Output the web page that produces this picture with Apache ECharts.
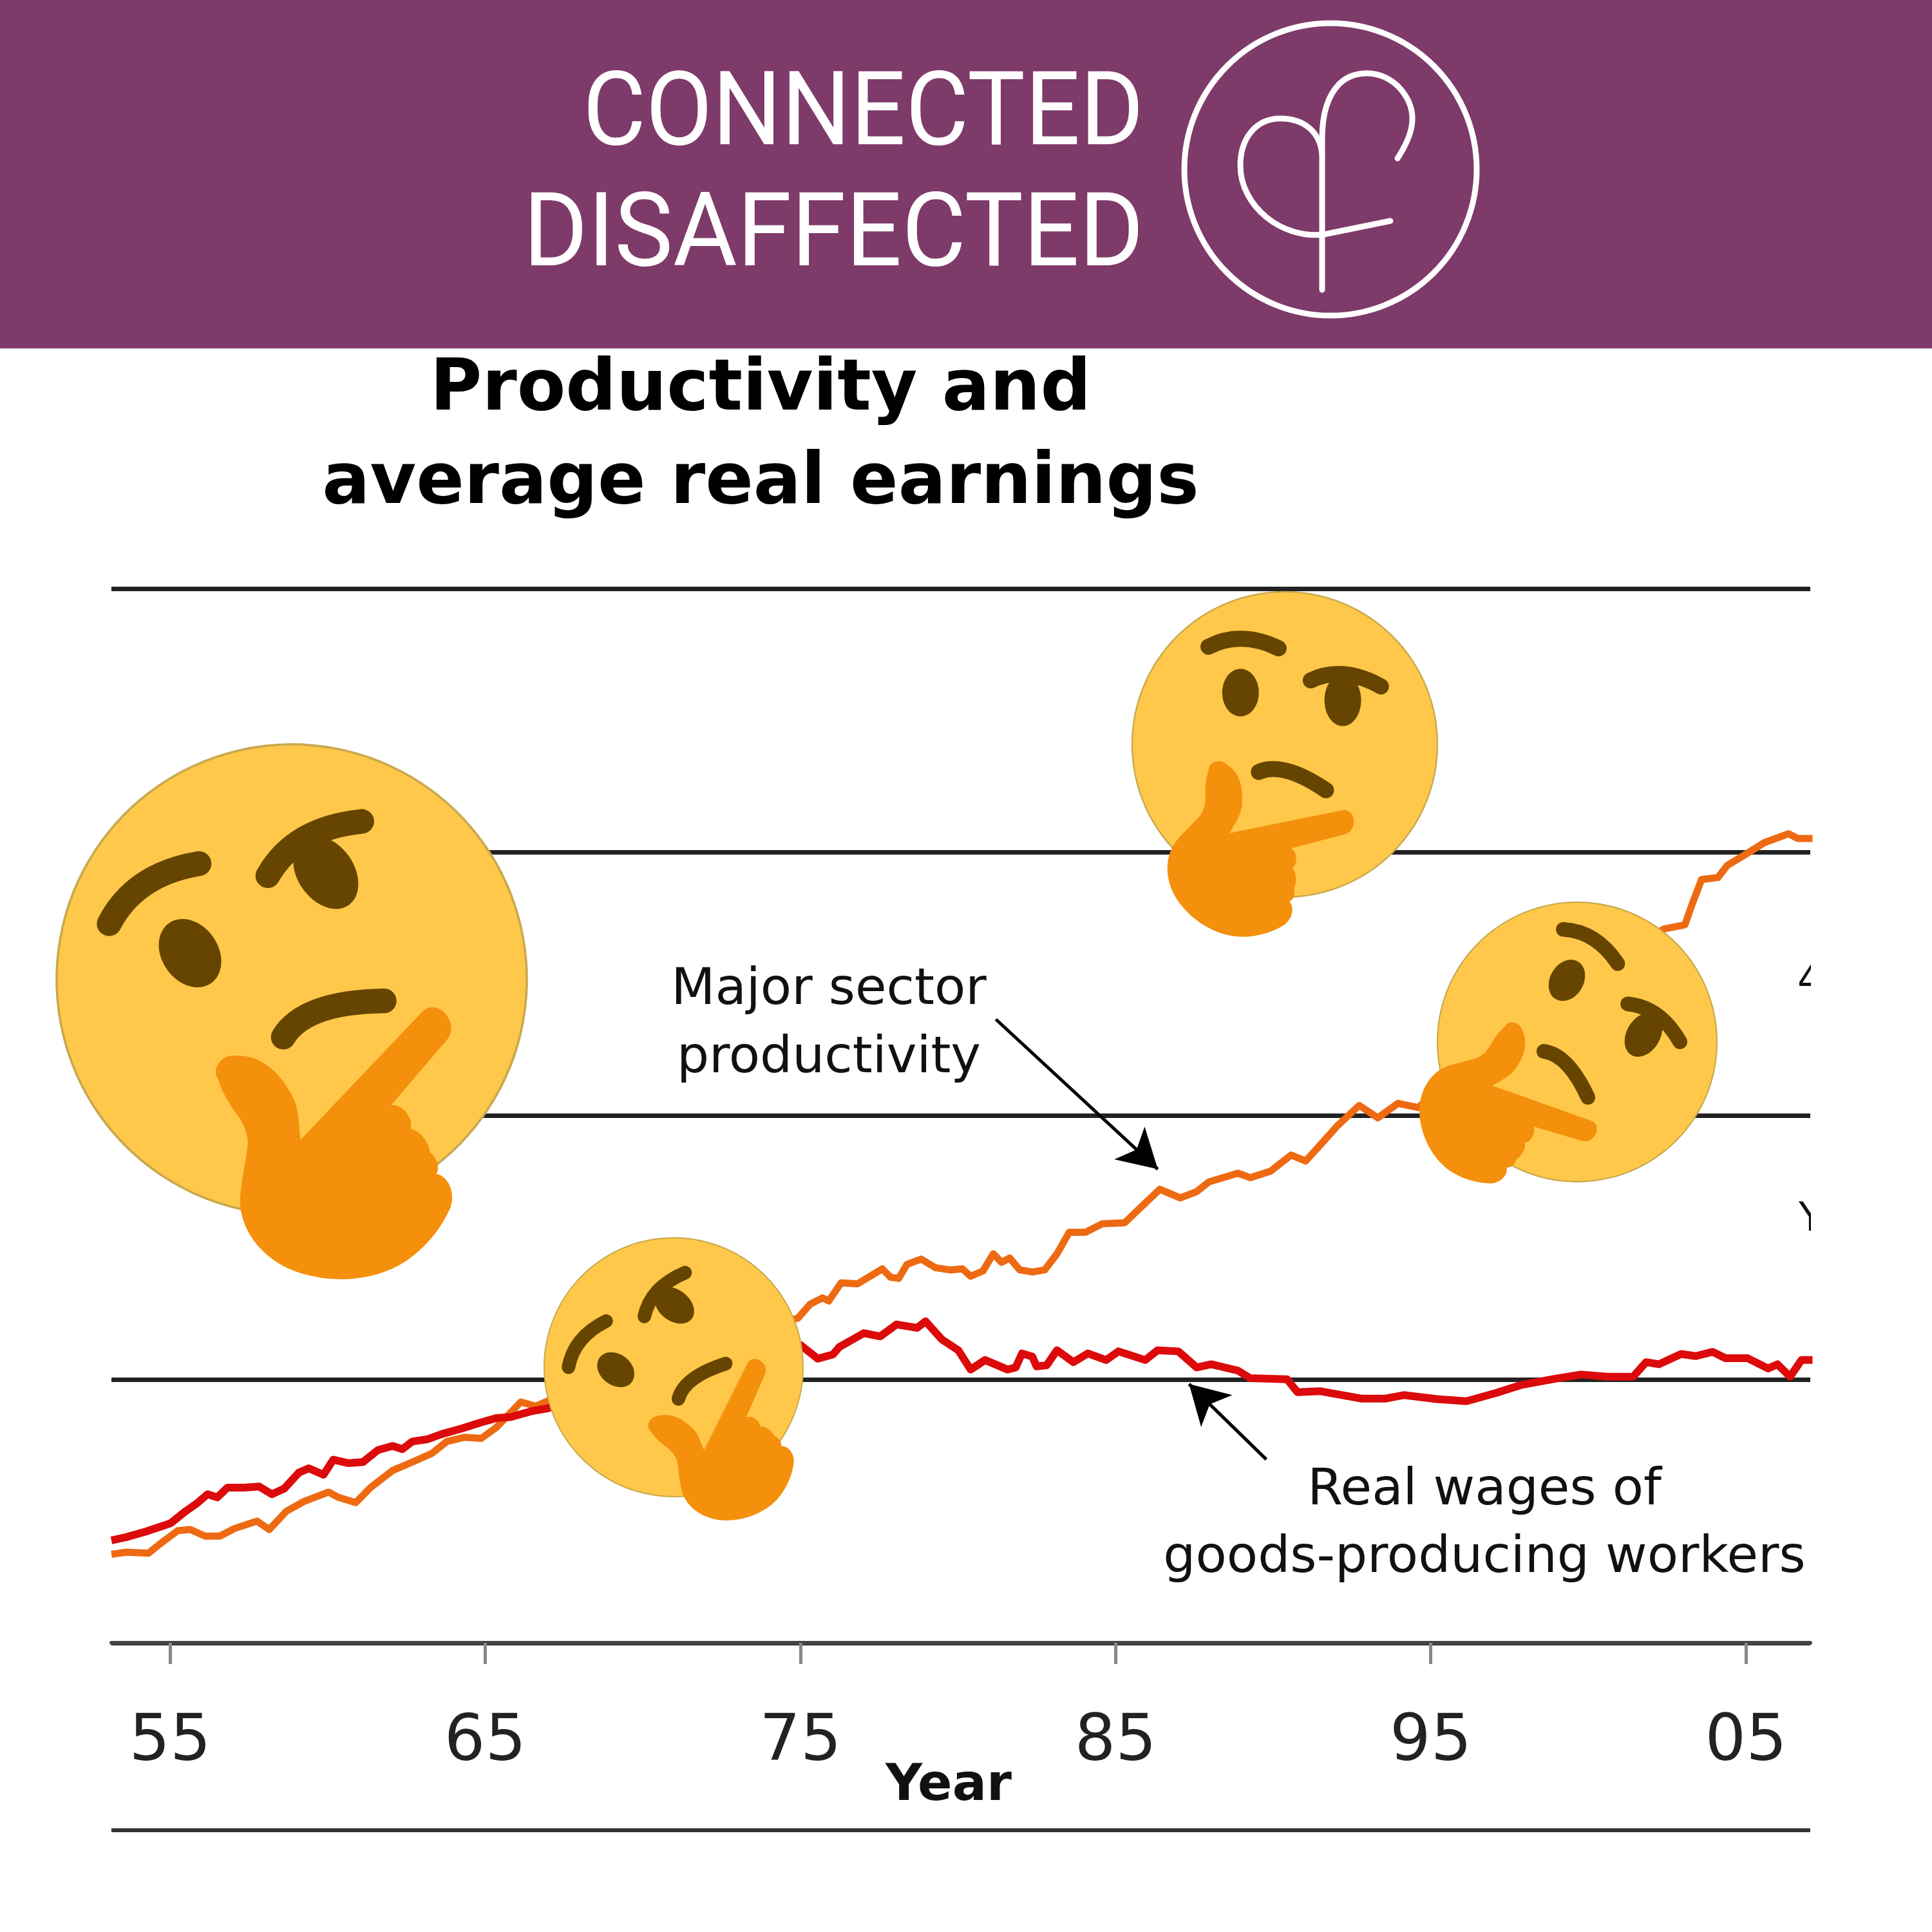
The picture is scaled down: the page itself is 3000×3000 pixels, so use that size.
<!DOCTYPE html>
<html><head><meta charset="utf-8">
<style>html,body{margin:0;padding:0;background:#fff}#c{width:3000px;height:3000px}</style>
<script src="https://cdn.jsdelivr.net/npm/echarts@6/dist/echarts.min.js"></script>
</head><body><div id="c"></div>
<script>
const tickYears = [1955,1965,1975,1985,1995,2005];

const productivityYears = [1953.14,1953.61,1954.31,1954.7,1955.25,1955.64,1956.11,1956.58,1957.05,1957.76,1958.15,1958.69,1959.24,1960.03,1960.34,1960.89,1961.36,1962.06,1962.69,1963.31,1963.78,1964.33,1964.88,1965.35,1966.13,1966.6,1968,1970,1972,1973.5,1974.92,1975.31,1975.7,1975.9,1976.29,1976.81,1977.6,1977.86,1978.12,1978.38,1978.83,1979.29,1979.75,1980.14,1980.4,1980.79,1981.12,1981.38,1981.64,1981.96,1982.36,1982.75,1983.14,1983.53,1984.05,1984.57,1985.29,1985.68,1986.4,1987.05,1987.57,1987.96,1988.88,1989.27,1989.92,1990.57,1991.03,1991.56,1992.03,1992.73,1993.32,1993.96,1994.61,1996,1998,2000,2001,2002.41,2003.06,2003.29,2003.59,2004.11,2004.41,2005.06,2005.58,2006.35,2006.64,2007.11];
const productivityValues = [33.6,34.4,34.0,37.7,42.6,43.0,40.5,40.5,43.4,46.2,43.0,49.9,53.6,57.2,55.2,53.2,58.9,65.4,68.6,71.9,76.4,78.0,77.6,81.7,91.4,89.8,97,103,113,119,123.2,128.5,130.9,129.7,136.6,136.2,141.9,138.7,138.3,143.6,145.6,142.3,141.5,141.9,139.1,141.1,147.6,144.4,146.0,141.5,140.7,141.5,147.6,155.8,155.8,159.0,159.4,163.9,172.1,168.8,171.2,174.9,178.2,176.5,179.0,185.1,182.8,189.8,196.1,203.9,199.2,204.7,203.1,220,240,255,262,270.9,272.4,280.2,289.6,290.4,295.0,299.7,303.6,307.0,305.2,305.2];

const wageYears = [1953.14,1953.61,1954.23,1955.02,1955.49,1955.88,1956.19,1956.5,1956.82,1957.36,1957.83,1958.23,1958.62,1959.09,1959.4,1959.87,1960.18,1960.65,1961.12,1961.59,1962.06,1962.37,1962.69,1963.15,1963.62,1964.25,1964.88,1965.35,1965.82,1966.44,1966.99,1968,1970,1972,1973,1974,1975.0,1975.55,1976.03,1976.23,1977.01,1977.53,1978.05,1978.7,1978.97,1979.49,1980.01,1980.4,1980.86,1981.57,1981.83,1982.03,1982.36,1982.49,1982.81,1983.14,1983.66,1984.12,1984.7,1985.09,1985.94,1986.33,1986.99,1987.57,1988.03,1988.88,1989.27,1990.44,1990.77,1991.48,1992.79,1993.57,1994.14,1995.19,1996.13,1997.07,1997.89,1998.95,1999.77,2000.59,2001.42,2001.83,2002.24,2002.94,2003.41,2003.94,2004.35,2005.05,2005.7,2006.0,2006.4,2006.76,2007.11];
const wageValues = [38.9,40.1,42.2,45.4,49.9,53.2,56.4,55.2,58.9,58.9,59.3,56.4,58.5,64.6,66.2,63.8,69.5,68.2,68.6,73.1,74.7,73.5,76.4,77.2,79.2,81.3,83.7,85.3,85.7,87.8,89.0,93,100,106,112,112,113,107.8,109.4,112.2,117.5,116.3,120.8,119.5,122.0,115.1,111.0,103.7,107.3,103.7,104.5,109.8,108.6,104.9,105.3,111.0,106.5,109.8,107.3,110.6,107.3,111.0,110.6,104.5,105.7,103.3,100.4,100.0,95.1,95.5,92.7,92.7,94.0,92.5,91.7,94.8,97.9,100.2,101.8,101.0,101.0,106.5,105.7,109.6,108.8,110.4,108.0,108.0,104.1,105.7,101.0,107.3,107.3];

const pairs = (xs, ys) => xs.map((x, i) => [x, ys[i]]);
const FACE='#FFC84A', EDGE='#C9A94E', DARK='#664500', HAND='#F4900C';
const emojiLayout = [[453,1521,365,35],[1995,1156,237,0],[1046,2123,201,52],[2449,1618,217,-31]];

function renderThinker(params, api){
  const stroke=(d,w)=>({type:'path',shape:{pathData:d},style:{fill:'none',stroke:DARK,lineWidth:w,lineCap:'round',lineJoin:'round'}});
  const r=api.value(2)/100;
  return {type:'group',x:api.value(0),y:api.value(1),scaleX:r,scaleY:r,rotation:api.value(3)*Math.PI/180,children:[
    {type:'circle',shape:{cx:0,cy:0,r:100},style:{fill:FACE,stroke:EDGE,lineWidth:1}},
    stroke('M-50,-64 Q-29,-75 -4,-63',10.5),
    {type:'ellipse',shape:{cx:-29,cy:-34,rx:12,ry:15.6},style:{fill:DARK}},
    stroke('M17,-42 Q38,-52 63,-38',10.5),
    {type:'ellipse',shape:{cx:38,cy:-29,rx:12,ry:17},style:{fill:DARK}},
    stroke('M-17,18 Q-1,11 27,30',10.5),
    {type:'path',shape:{pathData:'M-50,17 C-50,11 -42,9 -38,13 C-30,18 -27,28 -28,38 C-28,46 -33,52 -36,58 L38,43 C47,42 48,57 39,59 L4,68 C9,71 8,79 5,81 C8,84 8,91 6,94 C7,97 6,102 3,103 C6,106 6,113 0,118 C-8,123 -18,126 -28,126 C-45,126 -62,115 -71,101 C-79,88 -79,72 -70,62 C-64,55 -58,50 -55,46 C-52,41 -52,37 -52,33 C-52,28 -52,23 -50,17 Z'},style:{fill:HAND}}
  ]};
}
function renderLogo(){
  const s={fill:'none',stroke:'#fff',lineWidth:9,lineCap:'round'};
  return {type:'group',children:[
    {type:'path',shape:{pathData:'M2170,246 C2190,215 2205,180 2180,145 C2155,108 2105,105 2080,130 C2060,150 2053,180 2053,215 L2053,450'},style:s},
    {type:'path',shape:{pathData:'M2159,343 L2056,364 C1990,372 1926,320 1926,257 C1926,215 1950,184 1988,184 C2025,184 2050,205 2053,240'},style:s}
  ]};
}

const option = {
  animation:false,
  backgroundColor:'#fff',
  title:{text:'Productivity and\naverage real earnings',left:1176,top:530,textAlign:'center',
    textStyle:{fontFamily:'DejaVu Sans',fontWeight:'bold',fontSize:110,lineHeight:145,color:'#000'}},
  grid:{left:173,right:189,top:914,bottom:449,containLabel:false},
  xAxis:{type:'value',min:1953.14,max:2007.04,
    name:'Year',nameLocation:'middle',nameGap:184,nameMoveOverlap:false,
    nameTextStyle:{fontFamily:'DejaVu Sans',fontWeight:'bold',fontSize:79,color:'#111',padding:[0,38,0,0]},
    axisLine:{onZero:false,lineStyle:{color:'#444',width:6}},
    axisTick:{customValues:tickYears,length:33,lineStyle:{color:'#888',width:5}},
    axisLabel:{customValues:tickYears,margin:106,fontFamily:'DejaVu Sans',fontSize:100,color:'#222',
      formatter:v=>String(Math.round(v)%100).padStart(2,'0')},
    splitLine:{show:false}},
  yAxis:{type:'value',min:0,max:400,interval:100,
    axisLine:{show:false},axisTick:{show:false},axisLabel:{show:false},
    splitLine:{show:true,lineStyle:{color:'#222',width:7}}},
  series:[
    {name:'Major sector productivity',type:'line',showSymbol:false,symbol:'none',data:pairs(productivityYears,productivityValues),
      lineStyle:{color:'#EE6A12',width:11,join:'round'},z:5,
      markLine:{silent:true,animation:false,symbol:['none','arrow'],symbolSize:[52,60],label:{show:false},
        lineStyle:{color:'#000',width:5,type:'solid'},
        data:[[{coord:[1981.2,236.6]},{coord:[1986.34,179.7]}]]}},
    {name:'Real wages of goods-producing workers',type:'line',showSymbol:false,symbol:'none',data:pairs(wageYears,wageValues),
      lineStyle:{color:'#DC0A0A',width:12,join:'round'},z:6,
      markLine:{silent:true,animation:false,symbol:['none','arrow'],symbolSize:[52,60],label:{show:false},
        lineStyle:{color:'#000',width:5,type:'solid'},
        data:[[{coord:[1989.78,69.6]},{coord:[1987.33,98.2]}]]}},
    {type:'custom',name:'thinking faces',coordinateSystem:'none',silent:true,z:50,data:emojiLayout,renderItem:renderThinker,clip:false},
    {type:'custom',name:'logo',coordinateSystem:'none',silent:true,z:50,data:[[0]],renderItem:renderLogo,clip:false}
  ],
  graphic:[
    {type:'rect',z:40,shape:{x:0,y:0,width:3000,height:541},style:{fill:'#7E3A69'}},
    {type:'text',z:41,x:1776,y:184,scaleX:0.94,style:{text:'CONNECTED',fill:'#fff',font:'400 160px Roboto',textAlign:'right',textVerticalAlign:'middle'}},
    {type:'text',z:41,x:1776,y:372,scaleX:0.955,style:{text:'DISAFFECTED',fill:'#fff',font:'400 160px Roboto',textAlign:'right',textVerticalAlign:'middle'}},
    {type:'circle',z:41,shape:{cx:2066,cy:263,r:227},style:{fill:'none',stroke:'#fff',lineWidth:9}},
    {type:'text',z:10,x:1287,y:1538,style:{text:'Major sector',fill:'#111',font:'79px "DejaVu Sans"',textAlign:'center',textVerticalAlign:'middle'}},
    {type:'text',z:10,x:1287,y:1644,style:{text:'productivity',fill:'#111',font:'79px "DejaVu Sans"',textAlign:'center',textVerticalAlign:'middle'}},
    {type:'text',z:10,x:2305,y:2315,style:{text:'Real wages of',fill:'#111',font:'79px "DejaVu Sans"',textAlign:'center',textVerticalAlign:'middle'}},
    {type:'text',z:10,x:2305,y:2420,style:{text:'goods-producing workers',fill:'#111',font:'79px "DejaVu Sans"',textAlign:'center',textVerticalAlign:'middle'}},
    {type:'line',z:10,shape:{x1:173,y1:2842,x2:2811,y2:2842},style:{stroke:'#333',lineWidth:6}},
    {type:'text',z:10,x:2791,y:1526,style:{text:'4',fill:'#111',font:'62px "DejaVu Sans"',textVerticalAlign:'middle'}},
    {type:'text',z:10,x:2793,y:1895,style:{text:'Y',fill:'#111',font:'62px "DejaVu Sans"',textVerticalAlign:'middle'}},
    {type:'rect',z:11,shape:{x:2812,y:1400,width:120,height:600},style:{fill:'#fff'}}
  ]
};
echarts.init(document.getElementById('c'),null,{renderer:'canvas'}).setOption(option);
</script></body></html>
